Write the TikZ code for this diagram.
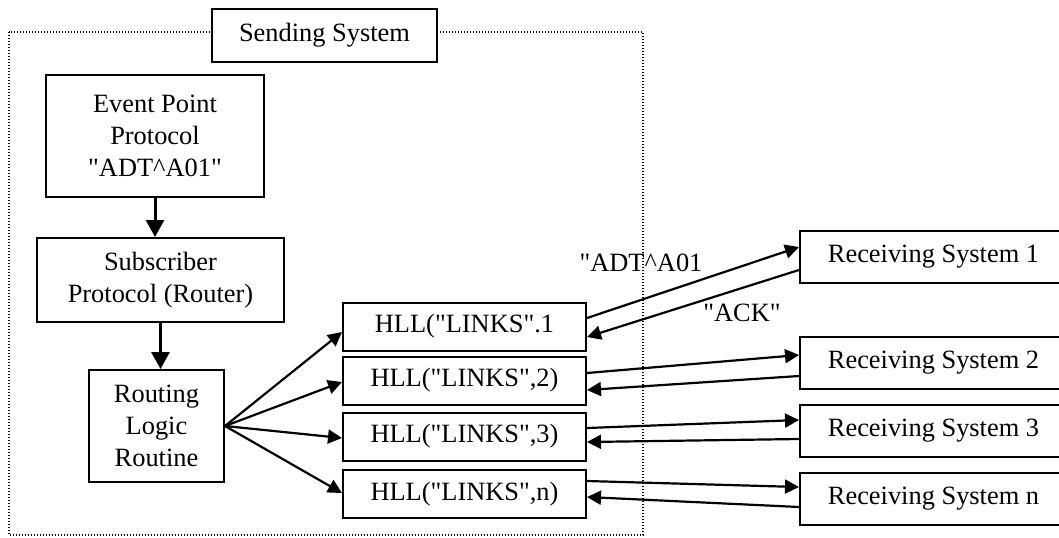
\documentclass[tikz,border=0pt]{standalone}
\usepackage{fontspec}
\setmainfont{Liberation Serif}
\usetikzlibrary{arrows.meta}

\begin{document}
\begin{tikzpicture}[font=\fontsize{13.2}{16}\selectfont, line join=miter, x=0.5pt, y=-0.5pt,
  box/.style={draw, line width=1pt, fill=white, align=center, inner sep=0pt},
  link/.style={-{Triangle[length=7pt,width=7pt]}, line width=1.1pt},
  down/.style={-{Triangle[length=8.5pt,width=9pt]}, line width=1.5pt}]
\def\q{\textquotedbl}
\useasboundingbox (0,0) rectangle (1059,537);
\clip (0,0) rectangle (1059,537);
% frame of the sending system
\draw[dotted, line width=0.6pt, dash pattern=on 0.6pt off 0.9pt] (9,32) rectangle (643,535);
\node[box, minimum width=112.5pt, minimum height=26.5pt] (send) at (324.5,35) {Sending System};
\node[box, minimum width=109pt, minimum height=61pt] (event) at (155,136) {Event Point\\Protocol\\\q ADT\textasciicircum A01\q};
\node[box, minimum width=123.5pt, minimum height=42pt] (sub) at (160.5,280) {Subscriber\\Protocol (Router)};
\node[box, minimum width=67.5pt, minimum height=56pt] (route) at (156.5,426) {Routing\\Logic\\Routine};
\draw[down] (event.south) -- (event.south |- sub.north);
\draw[down] (sub.south) -- (sub.south |- route.north);
% links and receivers
\foreach \i/\t/\y in {1/{HLL(\q LINKS\q.1}/326.5, 2/{HLL(\q LINKS\q,2)}/380.5, 3/{HLL(\q LINKS\q,3)}/436.5, n/{HLL(\q LINKS\q,n)}/494}
  \node[box, minimum width=121.5pt, minimum height=24pt] (hll\i) at (464.5,\y) {\t};
\foreach \i/\y in {1/256.5, 2/362.5, 3/430.5, n/498.5}
  \node[box, minimum width=133.5pt, minimum height=26pt] (recv\i) at (933.5,\y) {Receiving System \i};
\foreach \i/\s in {1/-2.75, 2/-0.75, 3/-0.75, n/0.5}
  \draw[link] (route.east) -- ([yshift=\s pt]hll\i.west);
\foreach \i/\a/\b/\c/\d in {1/4.25/4.75/-6.75/-5.25, 2/3.75/3.75/-6.75/-4.75, 3/4.25/5.25/-4.25/-2.75, n/6.5/5.75/-4.25/-1.5}{
  \draw[link] ([yshift=\a pt]hll\i.east) -- ([yshift=\b pt]recv\i.west);
  \draw[link] ([yshift=\c pt]recv\i.west) -- ([yshift=\d pt]hll\i.east);}
\node (adt) at (641,263) {\q ADT\textasciicircum A01};
\node (ack) at (742,313) {\q ACK\q};
\end{tikzpicture}
\end{document}
